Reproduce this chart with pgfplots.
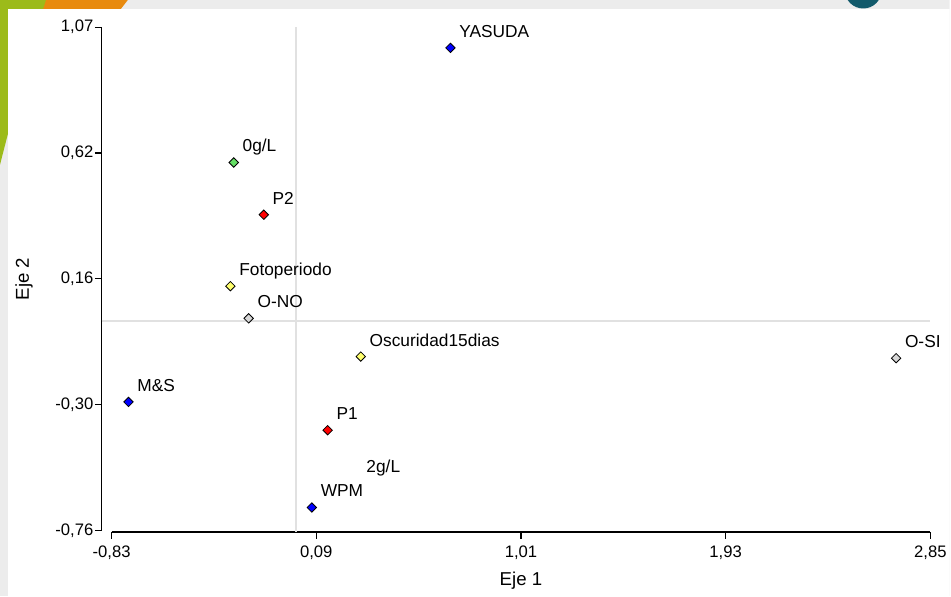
\documentclass[border=0pt]{standalone}
\usepackage{fontspec}
\setmainfont{Liberation Sans}
\usepackage{pgfplots}
\pgfplotsset{compat=1.18}
\definecolor{bggray}{RGB}{236,236,236}
\definecolor{decogreen}{RGB}{156,187,26}
\definecolor{decoorange}{RGB}{232,138,14}
\definecolor{decoteal}{RGB}{18,90,107}
\definecolor{ptblue}{RGB}{0,0,255}
\definecolor{ptred}{RGB}{255,0,0}
\definecolor{ptgreen}{RGB}{100,222,100}
\definecolor{ptyellow}{RGB}{255,255,110}
\definecolor{ptgray}{RGB}{215,215,215}
\definecolor{zeroline}{RGB}{225,225,225}
\begin{document}
\begin{tikzpicture}
\begin{scope}[x=0.75pt,y=-0.75pt]
\useasboundingbox (0,0) rectangle (951,597);
\clip (0,0) rectangle (951,597);
\fill[bggray] (0,0) rectangle (951,597);
\fill[decoorange] (40,0) -- (128,0) -- (121,9) -- (40,9) -- cycle;
\fill[decogreen] (0,0) -- (46,0) .. controls (30,50) and (14,110) .. (0,165) -- cycle;
\fill[decoteal] (864.5,-10) circle (18.5);
\fill[white] (8,9) rectangle (951,597);
\end{scope}
\begin{axis}[
  at={(76.3pt,-399.75pt)}, anchor=south west,
  scale only axis, width=622.5pt, height=379.3pt,
  xmin=-0.875, xmax=2.85, ymin=-0.767, ymax=1.07,
  axis x line*=bottom, axis y line*=left,
  x axis line style={shorten <=7.5pt},
  y axis line style={shorten <=1.3pt},
  axis line style={black, line width=1.1pt},
  tick align=outside, major tick length=5pt,
  tick style={black, line width=0.9pt},
  xtick={-0.83,0.09,1.01,1.93,2.85},
  xticklabels={{-0,83},{0,09},{1,01},{1,93},{2,85}},
  ytick={-0.76,-0.3025,0.155,0.6125,1.07},
  yticklabels={{-0,76},{-0,30},{0,16},{0,62},{1,07}},
  ticklabel style={font=\fontsize{12.5}{14}\selectfont, text=black},
  xticklabel style={yshift=-1.5pt},
  yticklabel style={inner sep=1pt},
  xlabel={Eje 1}, ylabel={Eje 2},
  every axis x label/.style={at={(axis cs:1.01,-0.767)}, anchor=center, yshift=-36.5pt, font=\fontsize{14}{16}\selectfont},
  every axis y label/.style={at={(axis description cs:-0.0936,0.5017)}, rotate=90, anchor=center, font=\fontsize{14}{16}\selectfont},
  clip=false,
  every node near coord/.append style={anchor=base west, inner sep=0pt, xshift=6.4pt, yshift=7.9pt, font=\fontsize{13}{15}\selectfont, text=black},
  mymark/.style={only marks, mark=square*, mark size=2.5pt, mark options={rotate=45, draw=black, line width=0.6pt, fill=#1}, nodes near coords, point meta=explicit symbolic},
]
\draw[zeroline, line width=1.5pt] (axis cs:0,-0.767) -- (axis cs:0,1.07);
\draw[zeroline, line width=1.5pt] (axis cs:-0.875,0) -- (axis cs:2.85,0);
\addplot[mymark=ptblue] coordinates {(0.693,0.995) [YASUDA] (-0.754,-0.293) [M\&S] (0.070,-0.677) [WPM]};
\addplot[mymark=ptgreen] coordinates {(-0.281,0.578) [0g/L]};
\addplot[mymark=ptred] coordinates {(-0.146,0.388) [P2] (0.141,-0.396) [P1]};
\addplot[mymark=ptyellow] coordinates {(-0.296,0.128) [Fotoperiodo] (0.290,-0.128) [Oscuridad15dias]};
\addplot[mymark=ptgray] coordinates {(-0.214,0.011) [O-NO] (2.696,-0.134) [O-SI]};
\addplot[draw=none, mark=none, nodes near coords, point meta=explicit symbolic] coordinates {(0.276,-0.587) [2g/L]};
\end{axis}
\end{tikzpicture}
\end{document}
